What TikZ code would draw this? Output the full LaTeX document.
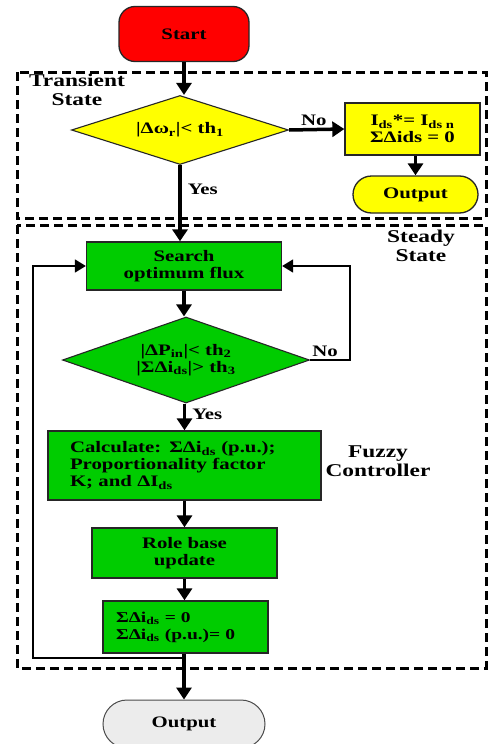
\documentclass[tikz,border=0pt]{standalone}
\usepackage{fontspec}
\setmainfont{Liberation Serif}[FakeStretch=1.3]
\usetikzlibrary{shapes.geometric,shapes.misc,arrows.meta}
\definecolor{fgreen}{RGB}{0,204,0}
\definecolor{fyellow}{RGB}{255,255,0}
\definecolor{fred}{RGB}{255,0,0}
\definecolor{fgray}{RGB}{236,236,236}
\begin{document}
\begin{tikzpicture}[x=1pt,y=-1pt,
  every node/.style={font=\bfseries\fontsize{16}{17}\selectfont,inner sep=0pt},
  box/.style={draw=black!85,line width=1.3pt,align=center},
  dia/.style={draw=black!85,line width=1.1pt,shape=diamond,aspect=3,align=center},
  flow/.style={line width=3.5pt,-{Triangle[length=12pt,width=15pt]}},
  loopl/.style={line width=1.8pt,-{Triangle[length=11pt,width=13pt]}},
  dashbox/.style={line width=3pt,dash pattern=on 9pt off 5pt},
  lbl/.style={font=\bfseries\fontsize{18}{19}\selectfont,align=center},
  yn/.style={font=\bfseries\fontsize{16}{17}\selectfont}]
\useasboundingbox (0,0) rectangle (489,744);
\clip (0,0) rectangle (489,744);
\fill[white] (0,0) rectangle (489,744);

% dashed regions
\draw[dashbox] (17,72) rectangle (486,218);
\draw[dashbox] (17,225) rectangle (486,668);
\node[lbl] (tlab) at (77,90) {Transient\\State};
\node[lbl] (slab) at (421,246) {Steady\\State};
\node[lbl] (flab) at (378,461) {Fuzzy\\Controller};

% nodes
\node[box,fill=fred,rounded corners=16pt,minimum width=130pt,minimum height=55pt] (start) at (184,34) {Start};
\node[dia,fill=fyellow,minimum width=217pt,minimum height=69pt] (d1) at (180,130) {|Δω\textsubscript{r}|< th\textsubscript{1}};
\node[box,fill=fyellow,minimum width=135pt,minimum height=52pt] (tbox) at (412.5,129) {I\textsubscript{ds}*= I\textsubscript{ds n}\\ΣΔids = 0};
\node[box,fill=fyellow,rounded rectangle,minimum width=125pt,minimum height=37pt] (out1) at (415.5,194.5) {Output};
\node[box,fill=fgreen,minimum width=195pt,minimum height=48pt] (search) at (184,266) {Search\\optimum flux};
\node[dia,fill=fgreen,minimum width=247pt,minimum height=86pt] (d2) at (186,360) {|ΔP\textsubscript{in}|< th\textsubscript{2}\\|ΣΔi\textsubscript{ds}|> th\textsubscript{3}};
\node[box,fill=fgreen,align=left,text width=229pt,inner xsep=22pt,minimum height=69pt] (calc) at (184.5,465.5) {Calculate: ΣΔi\textsubscript{ds} (p.u.);\\Proportionality factor\\K; and ΔI\textsubscript{ds}};
\node[box,fill=fgreen,minimum width=185pt,minimum height=50pt] (rule) at (184.5,553) {Role base\\update};
\node[box,fill=fgreen,align=left,text width=139pt,inner xsep=13pt,minimum height=52pt,font=\bfseries\fontsize{15}{17}\selectfont] (sum) at (185.5,627) {ΣΔi\textsubscript{ds} = 0\\ΣΔi\textsubscript{ds} (p.u.)= 0};
\node[box,draw=black!70,line width=1pt,fill=fgray,rounded rectangle,minimum width=162pt,minimum height=48pt] (out2) at (184,724) {Output};

% junction / loop coordinates
\coordinate (j) at (184,658);
\coordinate (lp) at (33,658);
\coordinate (rp) at (350,360);

% connectors
\draw[flow] (start.south) -- (start.south |- d1.north);
\draw[flow] (d1.east) -- (tbox.west) node[yn,pos=0.45,above=2pt] {No};
\draw[flow] (tbox.south -| out1.north) -- (out1.north);
\draw[flow] (d1.south) -- (d1.south |- search.north) node[yn,pos=0.32,right=6pt] {Yes};
\draw[flow] (search.south) -- (search.south |- d2.north);
\draw[flow] (d2.south -| calc.north) -- (calc.north) node[yn,pos=0.4,right=6pt] {Yes};
\draw[flow] (calc.south) -- (rule.north);
\draw[flow] (rule.south) -- (rule.south |- sum.north);
\draw[flow] (sum.south -| out2.north) -- (out2.north);
\draw[loopl] (d2.east) -- (rp) |- (search.east);
\node[yn,anchor=south] (no2) at (325,357) {No};
\draw[loopl] (j) -- (lp) |- (search.west);
\end{tikzpicture}
\end{document}
